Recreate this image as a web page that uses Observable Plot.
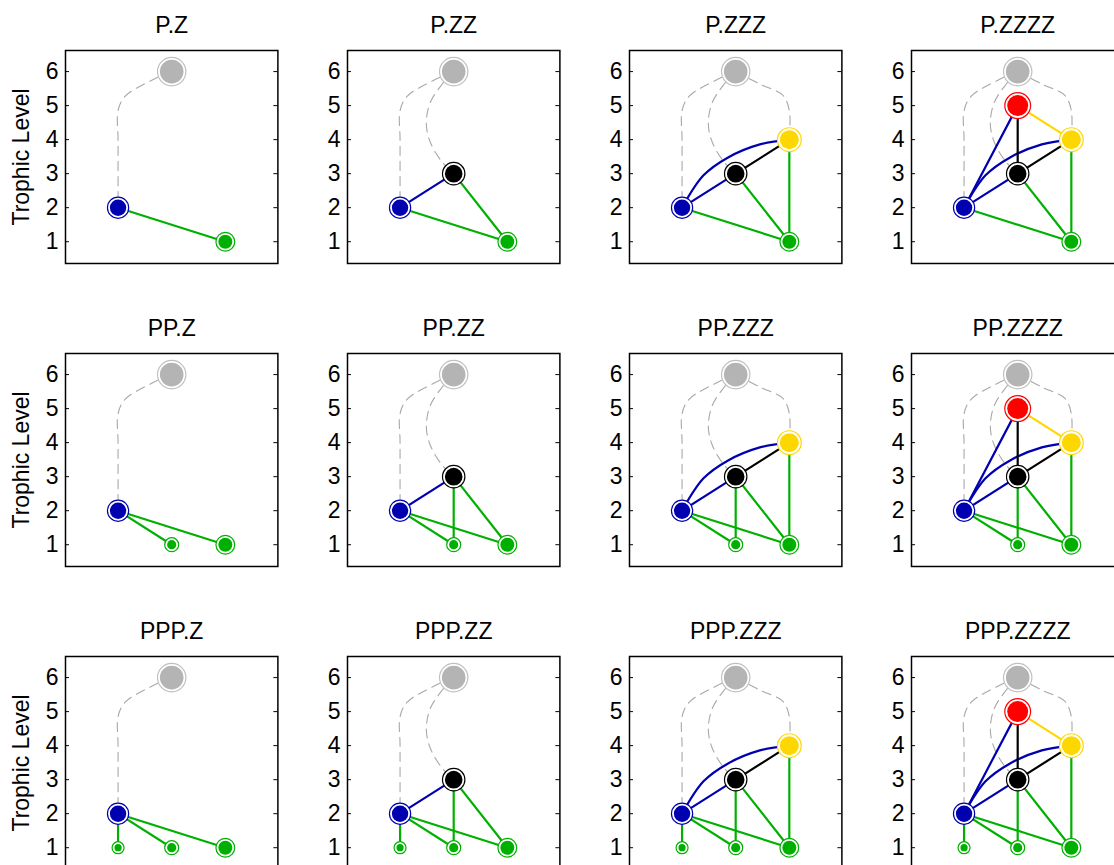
<!DOCTYPE html>
<html>
<head>
<meta charset="utf-8">
<script src="https://cdn.jsdelivr.net/npm/d3@7"></script>
<script src="https://cdn.jsdelivr.net/npm/@observablehq/plot@0.6"></script>
<style>
  html, body { margin: 0; padding: 0; background: white; }
  #wrap { position: relative; width: 1114px; height: 865px; overflow: hidden; background: white; }
  #wrap svg { position: absolute; }
</style>
</head>
<body>
<div id="wrap"></div>
<script>
// ---- data ----
const panelRows = ["P", "PP", "PPP"];
const panelCols = ["Z", "ZZ", "ZZZ", "ZZZZ"];
const levels = [1, 2, 3, 4, 5, 6];
const yLabel = "Trophic Level";

const nodeIds    = ["T", "R", "Y", "K", "B", "G3", "G2", "G1"];
const nodeX      = [2, 2, 3, 2, 1, 3, 2, 1];
const nodeLevel  = [6, 5, 4, 3, 2, 1, 1, 1];
const nodeMinCol = [0, 3, 2, 1, 0, 0, 0, 0];
const nodeMinRow = [0, 0, 0, 0, 0, 0, 1, 2];

const edgeFrom = ["G3", "G3", "G3", "G2", "G2", "G1", "B", "B", "B", "K", "K", "Y"];
const edgeTo   = ["B",  "K",  "Y",  "B",  "K",  "B",  "K", "Y", "R", "Y", "R", "R"];

// bend of the curved B -> Y link
const bendBYx = [1.4, 1.85, 2.45];
const bendBYy = [2.95, 3.47, 3.86];

// dashed links from the top node
const dashTo = ["B", "K", "Y"];
const dashTBx = [1.62, 1.13, 1.0, 1.0];
const dashTBy = [5.74, 5.27, 4.85, 4.0];
const dashTKx = [1.78, 1.56, 1.49, 1.57, 1.78];
const dashTKy = [5.62, 5.08, 4.45, 3.9, 3.35];
const dashTYx = [2.47, 2.88, 3.0];
const dashTYy = [5.62, 5.3, 4.85];

// ---- style ----
const nodeColor = ["#b4b4b4", "#ff0000", "#ffd700", "#000000", "#0000b0", "#00b000", "#00b000", "#00b000"];
const ringColor = ["#c0c0c0", "#ff0000", "#ffd700", "#000000", "#0000b0", "#00b000", "#00b000", "#00b000"];
const nodeSize  = [11.8, 10.5, 9.5, 8.8, 8.2, 7.0, 4.6, 3.6];

const FW = 212.4, FH = 213;
const ML = 66, MR = 12, MT = 50, MB = 12;
const W = ML + FW + MR, H = MT + FH + MB;
const colLeft = c => 65.3 + 281.9 * c;
const rowTop = r => 50 + 302.85 * r;
const FONT = "'Liberation Sans', Arial, Helvetica, sans-serif";

const idx = id => nodeIds.indexOf(id);
const bends = { "B-Y": bendBYx.map((x, i) => [x, bendBYy[i]]) };
const dashBends = {
  "B": dashTBx.map((x, i) => [x, dashTBy[i]]),
  "K": dashTKx.map((x, i) => [x, dashTKy[i]]),
  "Y": dashTYx.map((x, i) => [x, dashTYy[i]])
};

const wrap = document.getElementById("wrap");

panelRows.forEach((rn, r) => {
  panelCols.forEach((cn, c) => {
    const present = nodeIds.filter((id, i) => c >= nodeMinCol[i] && r >= nodeMinRow[i]);
    const nodes = present.map(id => {
      const i = idx(id);
      return { id, x: nodeX[i], y: nodeLevel[i], color: nodeColor[i], ring: ringColor[i], size: nodeSize[i] };
    });

    const solid = [];
    edgeFrom.forEach((f, k) => {
      const t = edgeTo[k];
      if (!present.includes(f) || !present.includes(t)) return;
      const fi = idx(f), ti = idx(t);
      const key = f + "-" + t;
      const pts = [[nodeX[fi], nodeLevel[fi]], ...(bends[key] || []), [nodeX[ti], nodeLevel[ti]]];
      pts.forEach(p => solid.push({ id: key, x: p[0], y: p[1], color: nodeColor[fi] }));
    });

    const dashed = [];
    dashTo.forEach(t => {
      if (!present.includes(t)) return;
      const ti = idx(t), si = idx("T");
      const pts = [[nodeX[si], nodeLevel[si]], ...dashBends[t], [nodeX[ti], nodeLevel[ti]]];
      pts.forEach(p => dashed.push({ id: "T-" + t, x: p[0], y: p[1] }));
    });

    const marks = [
      Plot.frame({ stroke: "black", strokeWidth: 1.5 }),
      Plot.tickY(levels, { y: d => d, insetRight: FW - 4, stroke: "black", strokeWidth: 1 }),
      Plot.tickY(levels, { y: d => d, insetLeft: FW - 4, stroke: "black", strokeWidth: 1 }),
      Plot.axisY(levels, { tickSize: 0, tickPadding: 7, label: null, fill: "black" }),
      Plot.text([rn + "." + cn], { frameAnchor: "top", lineAnchor: "bottom", dy: -17.5, fill: "black" }),
      Plot.line(dashed, { x: "x", y: "y", z: "id", stroke: "#a8a8a8", strokeWidth: 1.1, strokeDasharray: "9,6", curve: "catmull-rom" }),
      Plot.line(solid, { x: "x", y: "y", z: "id", stroke: "color", strokeWidth: 2.2, curve: "catmull-rom" }),
      Plot.dot(nodes, { x: "x", y: "y", r: d => d.size + 2.4, fill: "white", stroke: "ring", strokeWidth: 1.2 }),
      Plot.dot(nodes, { x: "x", y: "y", r: "size", fill: "color", stroke: "none" })
    ];
    if (c === 0) {
      marks.push(Plot.text([yLabel], { frameAnchor: "left", dx: -44, rotate: -90, textAnchor: "middle", lineAnchor: "middle", fill: "black" }));
    }

    const svg = Plot.plot({
      width: W, height: H,
      marginLeft: ML, marginRight: MR, marginTop: MT, marginBottom: MB,
      x: { domain: [0.02, 3.98], axis: null },
      y: { domain: [0.36, 6.62], axis: null },
      r: { type: "identity" },
      color: { type: "identity" },
      style: { background: "transparent", overflow: "visible", maxWidth: "none", fontSize: "23px", fontFamily: FONT },
      marks
    });
    svg.style.left = (colLeft(c) - ML) + "px";
    svg.style.top = (rowTop(r) - MT) + "px";
    wrap.appendChild(svg);
  });
});
</script>
</body>
</html>
